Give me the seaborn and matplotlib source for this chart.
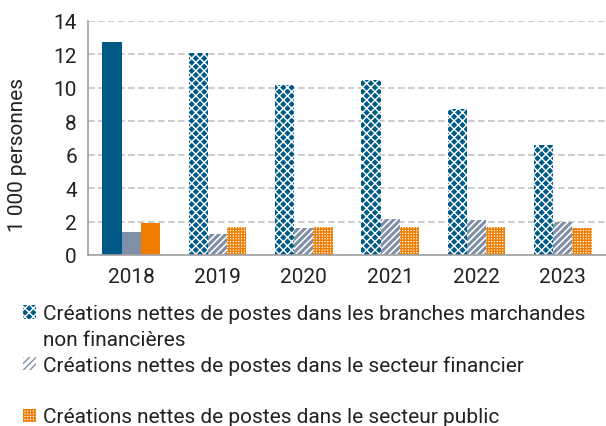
import matplotlib
matplotlib.use("Agg")
import matplotlib.pyplot as plt
import seaborn as sns
import pandas as pd
from matplotlib.patches import Patch

years = ["2018", "2019", "2020", "2021", "2022", "2023"]
marchandes = [12.75, 12.1, 10.15, 10.45, 8.75, 6.6]
financier = [1.38, 1.25, 1.6, 2.15, 2.1, 2.0]
public = [1.9, 1.7, 1.65, 1.65, 1.65, 1.6]
series = [
    "Créations nettes de postes dans les branches marchandes\nnon financières",
    "Créations nettes de postes dans le secteur financier",
    "Créations nettes de postes dans le secteur public",
]
ylabel = "1 000 personnes"

BLUE = "#005a87"
GREY = "#7f8fa6"
ORANGE = "#f07d00"
TXT = "#222222"

sns.set_style("white")
plt.rcParams["font.family"] = ["Roboto", "DejaVu Sans"]
plt.rcParams["hatch.linewidth"] = 1.0

df = pd.DataFrame({
    "year": years * 3,
    "value": marchandes + financier + public,
    "series": [series[0]] * 6 + [series[1]] * 6 + [series[2]] * 6,
})

fig = plt.figure(figsize=(6.06, 4.27), dpi=100)
ax = fig.add_axes([0.1452, 0.4005, 0.8548, 0.548])

sns.barplot(data=df, x="year", y="value", hue="series", hue_order=series,
            palette=[BLUE, GREY, ORANGE], width=0.67, gap=0, ax=ax,
            saturation=1, legend=False, linewidth=0)

styles = [
    dict(fc=BLUE, ec="white", hatch="xxxx", hlw=1.0),
    dict(fc="white", ec=GREY, hatch="/////", hlw=2.2),
    dict(fc="white", ec=ORANGE, hatch="++++++", hlw=1.0),
]


def style_patch(p, st):
    p.set_facecolor(st["fc"])
    p.set_edgecolor(st["ec"])
    p.set_hatch(st["hatch"])
    p.set_linewidth(0)
    if hasattr(p, "set_hatch_linewidth"):
        p.set_hatch_linewidth(st["hlw"])


for i, cont in enumerate(ax.containers):
    for j, bar in enumerate(cont):
        if j == 0:
            bar.set_facecolor([BLUE, GREY, ORANGE][i])
            bar.set_edgecolor("none")
        else:
            style_patch(bar, styles[i])

ax.set_ylim(0, 14)
ax.set_xlim(-0.5, 5.5)
ax.set_yticks(range(0, 15, 2))
ax.yaxis.grid(True, color="#c4c4c4", linestyle=(0, (4, 2)), linewidth=1.2)
ax.set_axisbelow(True)
for s in ["top", "right"]:
    ax.spines[s].set_visible(False)
for s in ["left", "bottom"]:
    ax.spines[s].set_color("#a0a0a0")
    ax.spines[s].set_linewidth(1.2)
ax.tick_params(axis="y", length=5, color="#a0a0a0", width=1.2, labelsize=15,
               pad=3, labelcolor=TXT)
ax.tick_params(axis="x", which="major", length=0, labelsize=15, pad=9, labelcolor=TXT)
ax.set_xticks([x - 0.5 for x in range(7)], minor=True)
ax.tick_params(axis="x", which="minor", length=8, color="#a0a0a0", width=1.2)
ax.set_xlabel("")
ax.set_ylabel(ylabel, fontsize=15, color=TXT)
ax.yaxis.set_label_coords(-0.118, 0.43)

handles = []
for k in range(3):
    h = Patch()
    style_patch(h, styles[k])
    handles.append(h)
    if k < 2:
        handles.append(Patch(facecolor="none", edgecolor="none"))
labels = [
    "Créations nettes de postes dans les branches marchandes",
    "non financières",
    series[1],
    "",
    series[2],
]
fig.legend(handles, labels, loc="upper left", bbox_to_anchor=(0.038, 0.285),
           frameon=False, fontsize=15, handlelength=0.6, handleheight=0.6,
           handletextpad=0.35, labelspacing=0.32, borderpad=0, borderaxespad=0,
           labelcolor=TXT)

fig.savefig("out.png", dpi=100)
